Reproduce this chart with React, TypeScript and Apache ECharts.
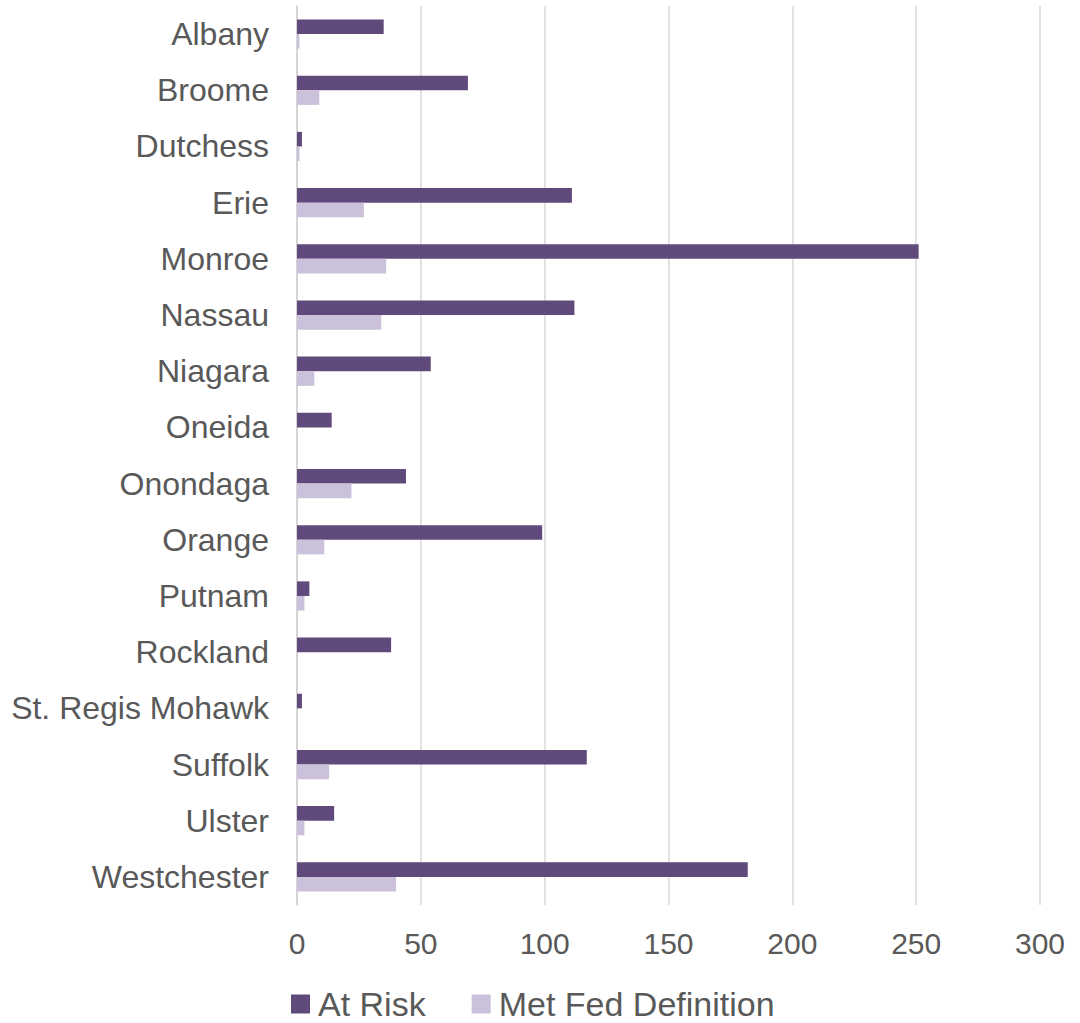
import React, { useEffect, useRef } from "react";
import * as echarts from "echarts";

const categories = [
  "Albany", "Broome", "Dutchess", "Erie", "Monroe", "Nassau", "Niagara", "Oneida",
  "Onondaga", "Orange", "Putnam", "Rockland", "St. Regis Mohawk", "Suffolk", "Ulster", "Westchester",
];
const atRisk = [35, 69, 2, 111, 251, 112, 54, 14, 44, 99, 5, 38, 2, 117, 15, 182];
const metFed = [1, 9, 1, 27, 36, 34, 7, 0, 22, 11, 3, 0, 0, 13, 3, 40];
const seriesNames = ["At Risk", "Met Fed Definition"];
const colors = ["#604A7B", "#CCC1DA"];

export default function App() {
  const ref = useRef<HTMLDivElement>(null);
  useEffect(() => {
    if (!ref.current) return;
    const chart = echarts.init(ref.current, null, { renderer: "svg" });
    const font = "'Liberation Sans', Arial, sans-serif";
    chart.setOption({
      animation: false,
      color: colors,
      textStyle: { fontFamily: font },
      grid: { left: 297, right: 40, top: 6, bottom: 118, containLabel: false },
      legend: {
        left: 286,
        top: 982,
        padding: [5, 5, 0, 5],
        icon: "rect",
        itemWidth: 19,
        itemHeight: 19,
        itemGap: 46,
        textStyle: {
          fontSize: 34,
          lineHeight: 34,
          color: "#595959",
          fontFamily: font,
          padding: [0, 0, 0, 3],
        },
        data: seriesNames,
      },
      xAxis: {
        type: "value",
        min: 0,
        max: 300,
        interval: 50,
        axisLine: { show: false },
        axisTick: { show: false },
        splitLine: { lineStyle: { color: "#D9D9D9", width: 1.5 } },
        axisLabel: { fontSize: 30, color: "#595959", margin: 23, fontFamily: font },
      },
      yAxis: {
        type: "category",
        inverse: true,
        data: categories,
        axisLine: { show: true, lineStyle: { color: "#D0D0D0", width: 1.5 } },
        axisTick: { show: false },
        axisLabel: { fontSize: 32, color: "#595959", margin: 28, fontFamily: font },
      },
      series: [
        {
          name: seriesNames[0],
          type: "bar",
          data: atRisk,
          barGap: "0%",
          barCategoryGap: "48%",
          itemStyle: { color: colors[0] },
        },
        {
          name: seriesNames[1],
          type: "bar",
          data: metFed,
          barGap: "0%",
          barCategoryGap: "48%",
          itemStyle: { color: colors[1] },
        },
      ],
    });
    return () => chart.dispose();
  }, []);
  return (
    <div
      ref={ref}
      style={{ position: "absolute", left: 0, top: 0, width: 1080, height: 1023, background: "#fff" }}
    />
  );
}
